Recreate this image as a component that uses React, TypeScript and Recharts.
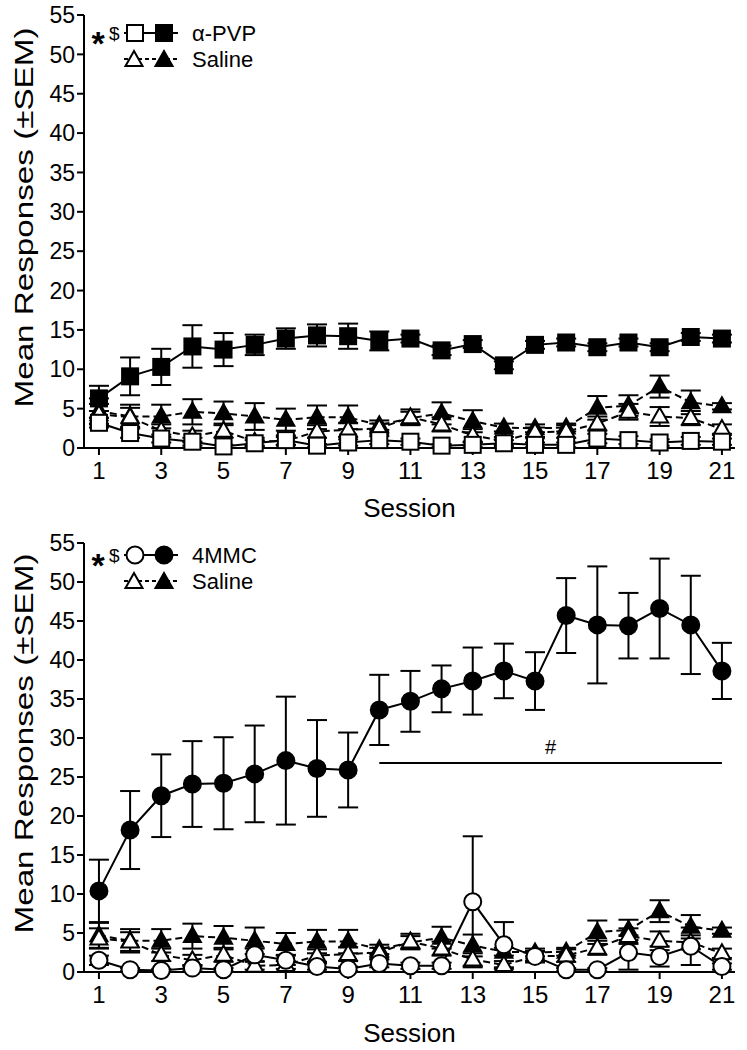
import React from "react";
import { ComposedChart, Line, XAxis, YAxis, ErrorBar, ReferenceLine, Legend, Label } from "recharts";

const sessions = [1, 2, 3, 4, 5, 6, 7, 8, 9, 10, 11, 12, 13, 14, 15, 16, 17, 18, 19, 20, 21];
const sessionTicks = [1, 3, 5, 7, 9, 11, 13, 15, 17, 19, 21];
const responseTicks = [0, 5, 10, 15, 20, 25, 30, 35, 40, 45, 50, 55];

const pvpActive = [6.3, 9.1, 10.3, 12.9, 12.5, 13.1, 13.9, 14.3, 14.2, 13.6, 13.9, 12.4, 13.2, 10.5, 13.1, 13.4, 12.8, 13.4, 12.8, 14.1, 13.9];
const pvpActiveSem = [1.6, 2.4, 2.3, 2.7, 2.1, 1.3, 1.3, 1.4, 1.6, 1.2, 0.5, 0.6, 0.5, 0.5, 0.5, 0.5, 0.5, 0.5, 0.5, 0.5, 0.5];
const pvpInactive = [3.2, 1.9, 1.2, 0.8, 0.2, 0.6, 1.0, 0.3, 0.7, 1.0, 0.8, 0.3, 0.4, 0.6, 0.4, 0.4, 1.2, 1.0, 0.7, 0.9, 0.8];
const pvpInactiveSem = [0.6, 0.6, 0.5, 0.5, 0.2, 0.4, 0.6, 0.2, 0.4, 0.5, 0.4, 0.2, 0.3, 0.4, 0.3, 0.3, 0.6, 0.5, 0.4, 0.5, 0.4];

const mmcActive = [10.4, 18.2, 22.6, 24.1, 24.2, 25.4, 27.1, 26.1, 25.9, 33.6, 34.7, 36.3, 37.3, 38.6, 37.3, 45.7, 44.5, 44.4, 46.6, 44.5, 38.6];
const mmcActiveSem = [4.0, 5.0, 5.3, 5.5, 5.9, 6.2, 8.2, 6.2, 4.8, 4.5, 3.9, 3.0, 4.3, 3.5, 3.7, 4.8, 7.5, 4.2, 6.4, 6.3, 3.6];
const mmcInactive = [1.5, 0.3, 0.2, 0.5, 0.3, 2.2, 1.5, 0.7, 0.4, 1.1, 0.8, 0.8, 9.0, 3.5, 2.0, 0.3, 0.3, 2.5, 2.0, 3.3, 0.7];
const mmcInactiveSem = [0.6, 0.2, 0.2, 0.4, 0.2, 0.8, 0.6, 0.4, 0.3, 0.5, 0.4, 0.4, 8.4, 2.9, 0.7, 0.2, 0.2, 2.2, 1.3, 2.4, 0.4];

const salineActive = [4.7, 4.0, 4.0, 4.6, 4.4, 4.0, 3.6, 3.9, 3.9, 2.9, 3.8, 4.4, 3.4, 2.6, 2.5, 2.6, 5.1, 5.4, 7.8, 5.8, 5.3];
const salineActiveSem = [1.6, 1.5, 1.5, 1.6, 1.5, 1.7, 1.4, 1.5, 1.5, 0.6, 0.8, 1.4, 1.4, 0.5, 0.5, 0.5, 1.5, 1.3, 1.4, 1.5, 0.4];
const salineInactive = [4.3, 3.9, 2.2, 1.5, 2.2, 0.8, 0.9, 2.1, 2.3, 2.5, 3.9, 3.0, 1.6, 0.9, 2.0, 2.1, 3.1, 4.6, 4.0, 3.8, 2.4];
const salineInactiveSem = [1.3, 1.2, 0.8, 0.7, 0.9, 0.5, 0.5, 0.8, 0.9, 0.6, 1.0, 0.9, 0.8, 0.5, 0.6, 0.8, 0.9, 1.0, 1.2, 0.9, 0.6];

const sigSessions = [10, 21];
const sigLevel = 26.8;
const sigText = "#";

const topDrugLabel = "α-PVP";
const bottomDrugLabel = "4MMC";
const salineLabel = "Saline";
const xTitle = "Session";
const yTitle = "Mean Responses (±SEM)";

const FONT = "'Liberation Sans', Arial, Helvetica, sans-serif";

const buildData = (active: number[], activeSem: number[], inactive: number[], inactiveSem: number[]) =>
  sessions.map((s, i) => ({
    session: s,
    drugA: active[i],
    drugAErr: activeSem[i],
    drugI: inactive[i],
    drugIErr: inactiveSem[i],
    salA: salineActive[i],
    salAErr: salineActiveSem[i],
    salI: salineInactive[i],
    salIErr: salineInactiveSem[i],
  }));

const topData = buildData(pvpActive, pvpActiveSem, pvpInactive, pvpInactiveSem);
const bottomData = buildData(mmcActive, mmcActiveSem, mmcInactive, mmcInactiveSem);

type Kind = "square" | "circle" | "triangle";

function Marker({ kind, cx, cy, filled }: { kind: Kind; cx: number; cy: number; filled: boolean }) {
  const fill = filled ? "#000" : "#fff";
  if (kind === "square") {
    return <rect x={cx - 8} y={cy - 8} width={16} height={16} fill={fill} stroke="#000" strokeWidth={2} />;
  }
  if (kind === "circle") {
    return <circle cx={cx} cy={cy} r={8.5} fill={fill} stroke="#000" strokeWidth={2} />;
  }
  return (
    <polygon
      points={`${cx},${cy - 9} ${cx - 8.5},${cy + 6} ${cx + 8.5},${cy + 6}`}
      fill={fill}
      stroke="#000"
      strokeWidth={2}
      strokeLinejoin="miter"
    />
  );
}

const dotFn = (kind: Kind, filled: boolean) => (p: any) => {
  if (p == null || p.cx == null || p.cy == null) return <g key={`e-${p?.index}`} />;
  return (
    <g key={`d-${kind}-${filled}-${p.index}`}>
      <Marker kind={kind} cx={p.cx} cy={p.cy} filled={filled} />
    </g>
  );
};

function LegendBox({ kind, label }: { kind: Kind; label: string }) {
  return (
    <svg width={200} height={60} style={{ display: "block", overflow: "visible" }}>
      <text x={10} y={40} fontSize={34} fontWeight="bold" textAnchor="middle" fontFamily={FONT} fill="#000">
        *
      </text>
      <text x={21} y={25} fontSize={19} fontFamily={FONT} fill="#000">
        $
      </text>
      <line x1={36} y1={18} x2={90} y2={18} stroke="#000" strokeWidth={2} />
      <Marker kind={kind} cx={47} cy={18} filled={false} />
      <Marker kind={kind} cx={76} cy={18} filled={true} />
      <text x={104} y={18} dominantBaseline="central" fontSize={22} fontFamily={FONT} fill="#000">
        {label}
      </text>
      <line x1={36} y1={44} x2={92} y2={44} stroke="#000" strokeWidth={2} strokeDasharray="4 3" />
      <Marker kind="triangle" cx={46} cy={45} filled={false} />
      <Marker kind="triangle" cx={76} cy={45} filled={true} />
      <text x={104} y={44} dominantBaseline="central" fontSize={22} fontFamily={FONT} fill="#000">
        {salineLabel}
      </text>
    </svg>
  );
}

const renderYTitle = (props: any) => {
  const vb = props && props.viewBox ? props.viewBox : null;
  const cy = (vb && vb.height ? vb.y + vb.height / 2 : 231) - 14;
  const bx = 33;
  return (
    <text
      x={bx}
      y={cy}
      transform={`rotate(-90 ${bx} ${cy})`}
      textAnchor="middle"
      fontSize={25}
      textLength={380}
      lengthAdjust="spacingAndGlyphs"
      fontFamily={FONT}
      fill="#000"
    >
      {yTitle}
    </text>
  );
};

const renderSigLabel = (props: any) => {
  const vb = props && props.viewBox ? props.viewBox : null;
  if (!vb) return null;
  const cx = vb.x + (vb.width || 0) / 2;
  const cy = vb.y - 9;
  return (
    <text x={cx} y={cy} textAnchor="middle" fontSize={20} fontFamily={FONT} fill="#000">
      {sigText}
    </text>
  );
};

const axisStroke = { stroke: "#000", strokeWidth: 2 };

function Panel({
  data,
  kind,
  drugLabel,
  marginTop,
  axisHeight,
  legendTop,
  showSig,
}: {
  data: any[];
  kind: Kind;
  drugLabel: string;
  marginTop: number;
  axisHeight: number;
  legendTop: number;
  showSig: boolean;
}) {
  return (
    <ComposedChart width={747} height={525} data={data} margin={{ top: marginTop, right: 12, bottom: 0, left: 0 }}>
      <XAxis
        dataKey="session"
        type="number"
        domain={[0.52, 21.42]}
        ticks={sessionTicks}
        interval={0}
        height={axisHeight}
        tickSize={7}
        tickMargin={7}
        axisLine={axisStroke}
        tickLine={axisStroke}
        tick={{ fill: "#000", fontSize: 24, fontFamily: FONT }}
      >
        <Label value={xTitle} position="insideBottom" offset={8} fontSize={26} fill="#000" fontFamily={FONT} />
      </XAxis>
      <YAxis
        type="number"
        domain={[0, 55]}
        ticks={responseTicks}
        interval={0}
        width={84}
        tickSize={7}
        tickMargin={2}
        axisLine={axisStroke}
        tickLine={axisStroke}
        tick={{ fill: "#000", fontSize: 23, fontFamily: FONT }}
      >
        <Label content={renderYTitle} />
      </YAxis>
      <Legend
        layout="horizontal"
        verticalAlign="middle"
        align="center"
        content={() => <LegendBox kind={kind} label={drugLabel} />}
        wrapperStyle={{ position: "absolute", left: 88, top: legendTop, width: 200, height: 60 }}
      />
      {showSig && (
        <ReferenceLine
          segment={[
            { x: sigSessions[0], y: sigLevel },
            { x: sigSessions[1], y: sigLevel },
          ]}
          stroke="#000"
          strokeWidth={2}
        >
          <Label content={renderSigLabel} />
        </ReferenceLine>
      )}
      <Line
        dataKey="salA"
        stroke="#000"
        strokeWidth={2}
        strokeDasharray="7 4"
        dot={dotFn("triangle", true)}
        activeDot={false}
        isAnimationActive={false}
      >
        <ErrorBar dataKey="salAErr" width={10} stroke="#000" strokeWidth={2} direction="y" />
      </Line>
      <Line
        dataKey="salI"
        stroke="#000"
        strokeWidth={2}
        strokeDasharray="7 4"
        dot={dotFn("triangle", false)}
        activeDot={false}
        isAnimationActive={false}
      >
        <ErrorBar dataKey="salIErr" width={10} stroke="#000" strokeWidth={2} direction="y" />
      </Line>
      <Line
        dataKey="drugI"
        stroke="#000"
        strokeWidth={2}
        dot={dotFn(kind, false)}
        activeDot={false}
        isAnimationActive={false}
      >
        <ErrorBar dataKey="drugIErr" width={10} stroke="#000" strokeWidth={2} direction="y" />
      </Line>
      <Line
        dataKey="drugA"
        stroke="#000"
        strokeWidth={2}
        dot={dotFn(kind, true)}
        activeDot={false}
        isAnimationActive={false}
      >
        <ErrorBar dataKey="drugAErr" width={10} stroke="#000" strokeWidth={2} direction="y" />
      </Line>
    </ComposedChart>
  );
}

export default function App() {
  return (
    <div style={{ position: "absolute", left: 0, top: 0, width: 747, height: 1050, background: "#fff" }}>
      <div style={{ position: "absolute", left: 0, top: 0 }}>
        <Panel data={topData} kind="square" drugLabel={topDrugLabel} marginTop={15} axisHeight={77} legendTop={15} showSig={false} />
      </div>
      <div style={{ position: "absolute", left: 0, top: 525 }}>
        <Panel data={bottomData} kind="circle" drugLabel={bottomDrugLabel} marginTop={18} axisHeight={78} legendTop={12} showSig={true} />
      </div>
    </div>
  );
}
